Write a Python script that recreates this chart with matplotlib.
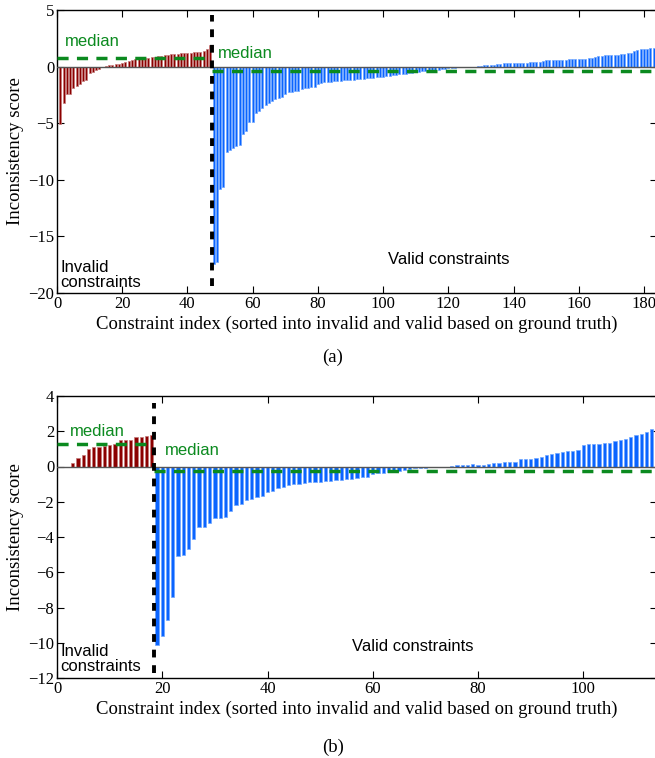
import numpy as np
import matplotlib
matplotlib.use("Agg")
import matplotlib.pyplot as plt

# ---- data ----
# (a) scores, sorted within each group; index starts at 1
invalid_a = [-5.1, -3.25, -2.4, -2.38, -1.87, -1.71, -1.55, -1.24, -1.22, -0.59,
             -0.44, -0.3, -0.21, -0.07, 0.08, 0.13, 0.18, 0.2, 0.23, 0.3,
             0.38, 0.5, 0.6, 0.65, 0.67, 0.71, 0.74, 0.8, 0.85, 0.88,
             0.94, 0.97, 1.0, 1.03, 1.09, 1.1, 1.15, 1.18, 1.19, 1.21,
             1.24, 1.27, 1.3, 1.32, 1.38, 1.53, 1.9]
valid_a = [-17.4, -17.3, -10.8, -10.6, -7.5, -7.4, -7.2, -7.05, -6.9, -5.95,
           -5.7, -4.9, -4.85, -4.1, -3.9, -3.7, -3.35, -3.25, -3.0, -2.85,
           -2.77, -2.65, -2.4, -2.28, -2.26, -2.18, -2.12, -1.97, -1.91, -1.88,
           -1.83, -1.77, -1.53, -1.47, -1.38, -1.35, -1.33, -1.3, -1.27, -1.25,
           -1.22, -1.2, -1.18, -1.15, -1.12, -1.1, -1.07, -1.05, -1.02, -0.98,
           -0.95, -0.92, -0.88, -0.85, -0.82, -0.78, -0.74, -0.68, -0.63, -0.61,
           -0.58, -0.53, -0.48, -0.44, -0.41, -0.38, -0.34, -0.32, -0.29, -0.27,
           -0.24, -0.2, -0.16, -0.14, -0.1, -0.05, -0.03, -0.02, -0.01, 0.0,
           0.0, 0.01, 0.09, 0.12, 0.12, 0.12, 0.18, 0.24, 0.26, 0.32,
           0.35, 0.35, 0.35, 0.35, 0.35, 0.35, 0.35, 0.38, 0.41, 0.41,
           0.44, 0.53, 0.56, 0.56, 0.56, 0.59, 0.62, 0.62, 0.62, 0.65,
           0.65, 0.65, 0.68, 0.68, 0.71, 0.74, 0.8, 0.88, 0.91, 0.91,
           1.0, 1.06, 1.06, 1.06, 1.06, 1.09, 1.15, 1.18, 1.18, 1.38,
           1.47, 1.56, 1.59, 1.59, 1.62, 1.65, 1.68]
median_a = [0.78, -0.35]   # invalid, valid

# (b)
invalid_b = [-0.05, 0.0, 0.2, 0.5, 0.66, 0.97, 1.08, 1.08, 1.19, 1.22,
             1.3, 1.5, 1.53, 1.53, 1.69, 1.69, 1.72, 1.76]
valid_b = [-10.1, -9.6, -8.7, -7.4, -5.1, -5.0, -4.7, -4.1, -3.45, -3.43,
           -3.2, -2.95, -2.9, -2.88, -2.55, -2.2, -2.1, -1.9, -1.85, -1.72,
           -1.68, -1.45, -1.4, -1.2, -1.15, -1.07, -1.0, -1.0, -0.95, -0.9,
           -0.9, -0.87, -0.82, -0.8, -0.78, -0.75, -0.72, -0.7, -0.63, -0.57,
           -0.57, -0.44, -0.38, -0.38, -0.34, -0.28, -0.23, -0.19, -0.13, -0.09,
           -0.09, -0.06, -0.04, -0.02, -0.01, 0.0, 0.01, 0.06, 0.09, 0.11,
           0.13, 0.11, 0.11, 0.15, 0.19, 0.21, 0.25, 0.25, 0.27, 0.42,
           0.4, 0.45, 0.47, 0.53, 0.63, 0.7, 0.78, 0.81, 0.87, 0.89,
           0.95, 1.21, 1.25, 1.29, 1.29, 1.31, 1.36, 1.42, 1.48, 1.55,
           1.67, 1.8, 1.82, 1.95, 2.1, 2.16]
median_b = [1.29, -0.28]

ylim_a = (-20, 5)
ylim_b = (-12, 4)
yticks_a = [-20, -15, -10, -5, 0, 5]
yticks_b = [-12, -10, -8, -6, -4, -2, 0, 2, 4]
xticks_a = [0, 20, 40, 60, 80, 100, 120, 140, 160, 180]
xticks_b = [0, 20, 40, 60, 80, 100]

RED = "#8b0000"
BLUE = "#0a64ff"
GREEN = "#0b8a1f"
SERIF = "Liberation Serif"
SANS = "Liberation Sans"

plt.rcParams["font.family"] = SERIF
plt.rcParams["axes.unicode_minus"] = True

fig = plt.figure(figsize=(6.55, 7.58), dpi=100)


def draw_panel(ax, invalid, valid, medians, ylim, yticks, xticks, vline_span,
               txt):
    n_inv = len(invalid)
    n_tot = n_inv + len(valid)
    x_inv = np.arange(1, n_inv + 1)
    x_val = np.arange(n_inv + 1, n_tot + 1)
    split = n_inv + 0.5

    ax.bar(x_inv, invalid, width=0.62, color=RED, edgecolor="#c47a7a",
           linewidth=0.5, zorder=2)
    ax.bar(x_val, valid, width=0.62, color=BLUE, edgecolor="#6fa6ff",
           linewidth=0.5, zorder=2)

    ax.axhline(0, color="#555555", lw=1.0, zorder=3)
    ax.plot([0, split], [medians[0]] * 2, ls=(0, (3.2, 2.4)), color=GREEN,
            lw=2.5, zorder=4)
    ax.plot([split, n_tot], [medians[1]] * 2, ls=(0, (3.2, 2.4)), color=GREEN,
            lw=2.5, zorder=4)
    ax.plot([split, split], vline_span, ls=(0, (2, 2)), color="black",
            lw=2.8, zorder=5)

    for (x, y, s, c, ha) in txt:
        ax.text(x, y, s, color=c, fontsize=12, family=SANS, ha=ha,
                va="center", linespacing=1.0, zorder=6)

    ax.set_xlim(0, n_tot)
    ax.set_ylim(*ylim)
    ax.set_yticks(yticks)
    ax.set_xticks(xticks)
    ax.tick_params(direction="in", top=True, right=True, labelsize=12,
                   length=5, width=0.8, pad=2)
    for sp in ax.spines.values():
        sp.set_linewidth(1.0)
    ax.set_ylabel("Inconsistency score", fontsize=13.5, labelpad=3)
    ax.set_xlabel("Constraint index (sorted into invalid and valid based on ground truth)",
                  fontsize=13.5, labelpad=3)


ax1 = fig.add_axes([57 / 655, 1 - 293 / 758, 600 / 655, 283 / 758])
draw_panel(ax1, invalid_a, valid_a, median_a, ylim_a, yticks_a, xticks_a,
           [-19.4, 4.6],
           [(2.5, 2.2, "median", GREEN, "left"),
            (49.5, 1.2, "median", GREEN, "left"),
            (1, -18.4, "Invalid\nconstraints", "black", "left"),
            (101.5, -17.0, "Valid constraints", "black", "left")])

ax2 = fig.add_axes([57 / 655, 1 - 678 / 758, 600 / 655, 282 / 758])
draw_panel(ax2, invalid_b, valid_b, median_b, ylim_b, yticks_b, xticks_b,
           [-11.7, 3.6],
           [(2.5, 2.0, "median", GREEN, "left"),
            (20.5, 0.9, "median", GREEN, "left"),
            (0.7, -10.9, "Invalid\nconstraints", "black", "left"),
            (56, -10.2, "Valid constraints", "black", "left")])

fig.text(0.508, 1 - 357 / 758, "(a)", ha="center", va="center", fontsize=13.5)
fig.text(0.508, 1 - 747 / 758, "(b)", ha="center", va="center", fontsize=13.5)

fig.savefig("out.png", dpi=100)
